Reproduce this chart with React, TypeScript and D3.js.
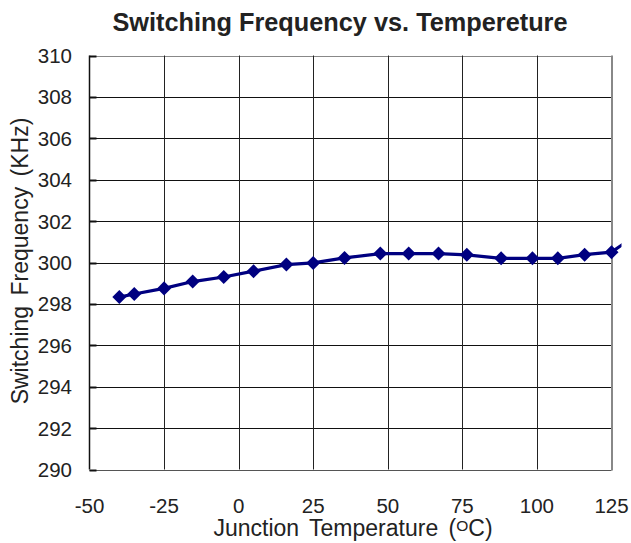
import React from "react";
import * as d3 from "d3";

const temps = [-40, -35, -25, -15.4, -5, 5, 16, 25, 35.5, 47.5, 57, 67, 76.5, 88, 98.5, 107, 116, 125, 130];
const freqs = [298.33, 298.48, 298.75, 299.08, 299.3, 299.58, 299.9, 299.98, 300.22, 300.43, 300.43, 300.43, 300.37, 300.2, 300.2, 300.2, 300.38, 300.5, 301.0];
const xTicks = [-50, -25, 0, 25, 50, 75, 100, 125];
const yTicks = [290, 292, 294, 296, 298, 300, 302, 304, 306, 308, 310];

const W = 631;
const H = 543;
const L = 89.5;
const R = 611.5;
const T = 55.5;
const B = 469.5;
const FONT = "'Liberation Sans', Arial, sans-serif";
const NAVY = "#000080";
const TXT = "#222";

export default function App() {
  const x = d3.scaleLinear().domain([-50, 125]).range([L, R]);
  const y = d3.scaleLinear().domain([290, 310]).range([B, T]);
  const pts = temps.map((t, i) => [x(t), y(freqs[i])] as [number, number]);
  const line = d3.line<[number, number]>()(pts) || "";
  const diamond = d3.symbol().type(d3.symbolDiamond2).size(125)() || "";
  return (
    <svg width={W} height={H} style={{ position: "absolute", left: 0, top: 0, background: "#fff" }}>
      <defs>
        <clipPath id="lc">
          <rect x={L - 10} y={0} width={R + 10 - L + 10} height={H} />
        </clipPath>
      </defs>
      <text x={340} y={31} textAnchor="middle" fontFamily={FONT} fontWeight="bold" fontSize={25.3} fill={TXT}>
        Switching Frequency vs. Tempereture
      </text>
      {yTicks.map((v) => (
        <g key={"y" + v}>
          <line x1={L} x2={R} y1={Math.round(y(v)) + 0.5} y2={Math.round(y(v)) + 0.5} stroke={v === 310 ? "#888" : v === 290 ? "#555" : "#111"} strokeWidth={1} />
          <line x1={L} x2={L + 7} y1={Math.round(y(v)) + 0.5} y2={Math.round(y(v)) + 0.5} stroke="#111" strokeWidth={2} />
          <text x={72} y={y(v) + 7.5} textAnchor="end" fontFamily={FONT} fontSize={20.5} fill={TXT}>
            {v}
          </text>
        </g>
      ))}
      {xTicks.map((v) => (
        <g key={"x" + v}>
          {v > -50 && v < 125 && (
            <line x1={Math.round(x(v)) + 0.5} x2={Math.round(x(v)) + 0.5} y1={T} y2={B} stroke="#222" strokeWidth={1} />
          )}
          <text x={x(v)} y={512.5} textAnchor="middle" fontFamily={FONT} fontSize={20.5} fill={TXT}>
            {v}
          </text>
        </g>
      ))}
      <line x1={L} x2={L} y1={T} y2={B} stroke="#111" strokeWidth={1.5} />
      <line x1={R + 0.5} x2={R + 0.5} y1={T} y2={B + 1} stroke="#888" strokeWidth={2} />
      <g clipPath="url(#lc)">
        <path d={line} fill="none" stroke={NAVY} strokeWidth={3.2} />
      </g>
      {pts.filter((_, i) => temps[i] <= 125).map((p, i) => (
        <path key={"m" + i} d={diamond} transform={`translate(${p[0]},${p[1]})`} fill={NAVY} />
      ))}
      <text x={353} y={536} textAnchor="middle" fontFamily={FONT} fontSize={23} wordSpacing={4} fill={TXT}>
        Junction Temperature (<tspan fontSize={15.5} dy={-5.5}>O</tspan><tspan dy={5.5}>C)</tspan>
      </text>
      <text transform={`translate(28,261) rotate(-90)`} textAnchor="middle" fontFamily={FONT} fontSize={23} wordSpacing={4} fill={TXT}>
        Switching Frequency (KHz)
      </text>
    </svg>
  );
}
